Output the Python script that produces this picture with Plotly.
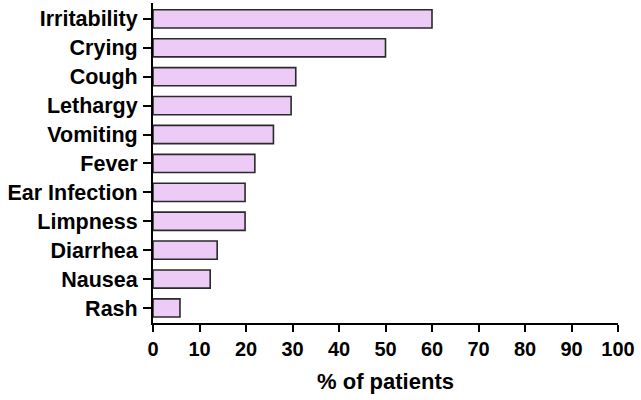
import plotly.graph_objects as go

symptoms = ["Irritability", "Crying", "Cough", "Lethargy", "Vomiting", "Fever",
            "Ear Infection", "Limpness", "Diarrhea", "Nausea", "Rash"]
percent = [60, 50, 30.7, 29.7, 25.9, 21.9, 19.8, 19.8, 13.8, 12.3, 5.8]
x_ticks = [0, 10, 20, 30, 40, 50, 60, 70, 80, 90, 100]

font_family = "Liberation Sans, Arial, sans-serif"

fig = go.Figure(go.Bar(
    x=percent, y=symptoms, orientation="h",
    marker=dict(color="#ECCBF7", line=dict(color="#2a2a2a", width=1.6)),
    width=0.63,
))

fig.update_layout(
    width=641, height=400,
    margin=dict(l=153, r=23, t=3, b=77, autoexpand=False),
    paper_bgcolor="white", plot_bgcolor="white",
    showlegend=False,
    font=dict(family=font_family, color="black"),
)
fig.update_xaxes(
    range=[0, 100], tickvals=x_ticks, ticktext=[str(v) for v in x_ticks],
    showline=True, linecolor="black", linewidth=2,
    ticks="outside", ticklen=7, tickwidth=2, tickcolor="black",
    showgrid=False, zeroline=False, automargin=False,
    tickfont=dict(size=20, family=font_family, weight="bold"),
    title=dict(text="<b>% of patients</b>", font=dict(size=22, family=font_family), standoff=15),
)
fig.update_yaxes(
    range=[10.52, -0.55],
    showline=True, linecolor="black", linewidth=2,
    ticks="outside", ticklen=8, tickwidth=2, tickcolor="black",
    showgrid=False, zeroline=False, automargin=False,
    tickfont=dict(size=21.5, family=font_family, weight="bold"),
    ticklabelstandoff=1,
)

fig.write_html("out.html", config={"displayModeBar": False},
               post_script="document.body.style.margin='0';")
